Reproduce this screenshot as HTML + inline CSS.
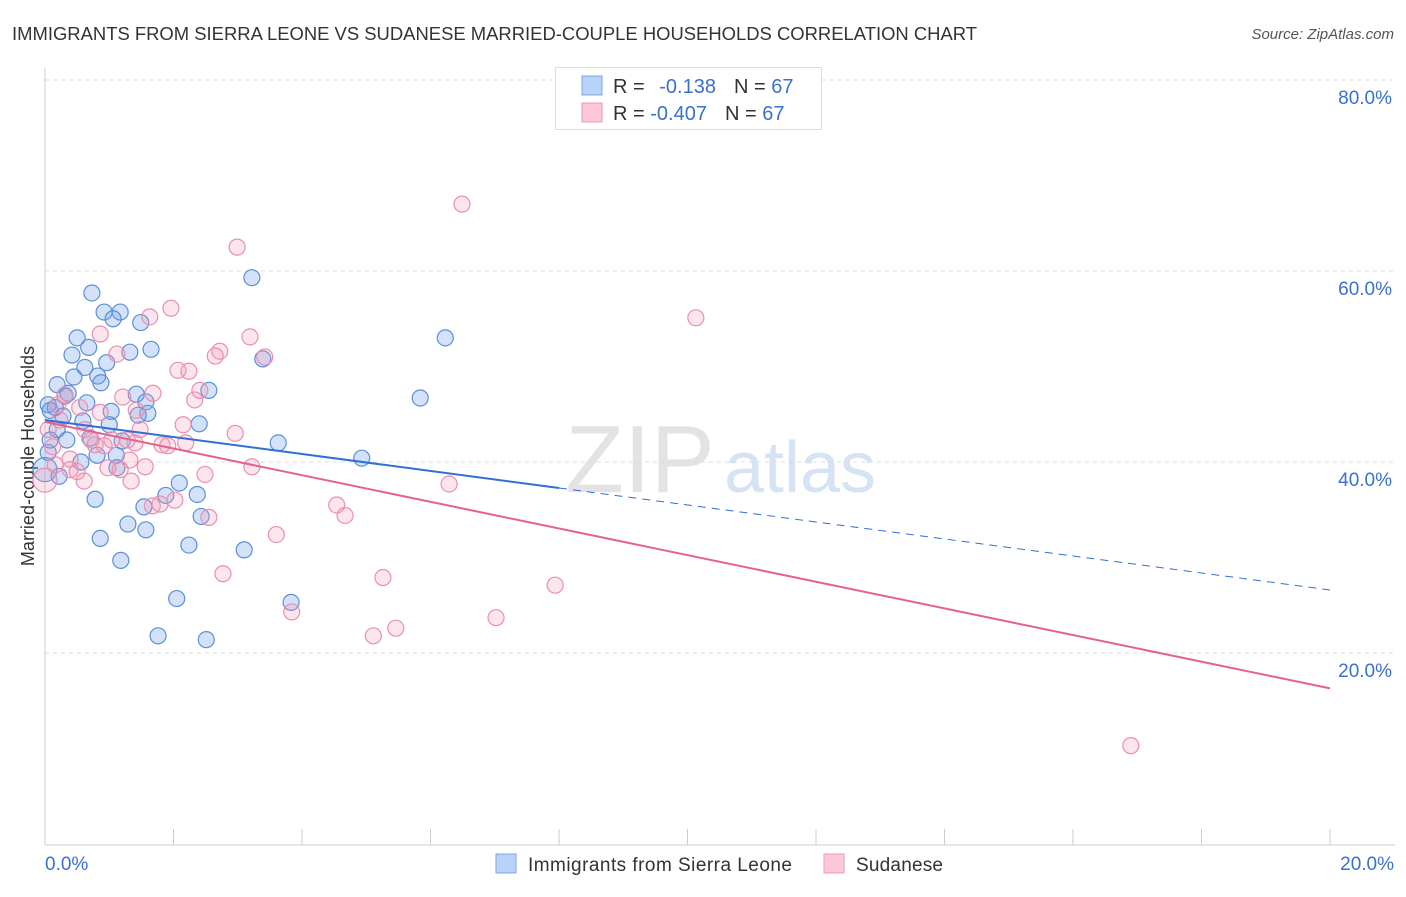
<!DOCTYPE html>
<html><head><meta charset="utf-8"><style>
body{margin:0;background:#fff;font-family:"Liberation Sans",sans-serif}
svg text{font-family:"Liberation Sans",sans-serif}
</style></head><body>
<svg id="c" width="1406" height="892">
<text x="12" y="40" font-size="18" fill="#333" textLength="965" lengthAdjust="spacingAndGlyphs">IMMIGRANTS FROM SIERRA LEONE VS SUDANESE MARRIED-COUPLE HOUSEHOLDS CORRELATION CHART</text>
<text x="1394" y="39" font-size="15" fill="#555" font-style="italic" text-anchor="end">Source: ZipAtlas.com</text>
<text x="640" y="492" font-size="96" fill="#e3e3e3" font-family="Liberation Serif" text-anchor="middle">ZIP</text>
<text x="800" y="492" font-size="72" fill="#d6e3f5" text-anchor="middle">atlas</text>
<text transform="translate(34,456) rotate(-90)" font-size="18" fill="#333" text-anchor="middle">Married-couple Households</text>
<g id="grid"></g><g id="pts"></g><g id="lines"></g>
<g>
<rect x="555.5" y="67.5" width="266" height="62" fill="#fff" stroke="#ddd"/>
<rect x="582" y="76" width="20" height="19" fill="#b8d3f5" stroke="#7aa8e6"/>
<rect x="582" y="103" width="20" height="19" fill="#fcc8d8" stroke="#ee9ab6"/>
<text x="613" y="93" font-size="20" fill="#333">R = <tspan fill="#3a70d0" dx="9">-0.138</tspan><tspan dx="18" fill="#333">N = </tspan><tspan fill="#3a70d0">67</tspan></text>
<text x="613" y="120" font-size="20" fill="#333">R = <tspan fill="#3a70d0">-0.407</tspan><tspan dx="18" fill="#333">N = </tspan><tspan fill="#3a70d0">67</tspan></text>
</g>
<g>
<rect x="496" y="854" width="20" height="19" fill="#b8d3f5" stroke="#7aa8e6"/>
<text x="528" y="871" font-size="19" fill="#333" textLength="264">Immigrants from Sierra Leone</text>
<rect x="824" y="854" width="20" height="19" fill="#fcc8d8" stroke="#ee9ab6"/>
<text x="856" y="871" font-size="19" fill="#333" textLength="87">Sudanese</text>
</g>
</svg>
<script>
const yTicks=[20,40,60,80];
const xTickLabels=["0.0%","20.0%"];
const blueX=[0.73,0.92,1.17,1.06,1.49,0.50,0.68,0.42,1.32,1.65,0.96,0.62,0.45,0.82,0.87,0.19,0.36,0.31,2.55,3.22,3.39,6.23,5.84,0.05,0.16,0.65,1.03,1.42,1.57,1.60,1.45,1.00,0.28,0.59,2.40,0.19,0.34,0.70,1.20,3.63,0.05,0.81,1.11,0.56,4.93,0.22,1.12,0.78,2.09,1.88,2.37,1.54,2.43,1.29,1.57,0.86,2.24,3.10,1.18,3.83,2.05,1.76,2.51,0.08,0.0,0.08];
const blueY=[57.7,55.7,55.7,55.0,54.6,53.0,52.0,51.2,51.5,51.8,50.4,49.9,48.9,49.0,48.3,48.1,47.2,46.9,47.5,59.3,50.8,53.0,46.7,46.0,45.7,46.2,45.3,47.1,46.3,45.1,44.9,43.9,44.8,44.3,44.0,43.4,42.3,42.5,42.2,42.0,41.0,40.7,40.7,40.0,40.4,38.5,39.4,36.1,37.8,36.5,36.6,35.3,34.3,33.5,32.9,32.0,31.3,30.8,29.7,25.3,25.7,21.8,21.4,42.3,39.2,45.4];
const pinkX=[6.49,2.99,1.96,1.63,0.86,3.19,2.72,2.65,3.42,1.12,2.07,2.24,1.68,1.21,2.33,10.13,0.20,0.54,0.86,1.42,2.15,2.96,0.72,0.92,1.28,1.40,1.82,1.91,2.19,0.12,0.39,0.98,1.56,2.49,3.22,0.50,0.61,1.34,6.29,0.0,1.79,1.67,4.54,4.67,2.55,3.60,2.77,5.26,7.94,3.84,5.46,5.11,7.02,16.90,0.23,0.05,0.31,1.04,1.32,0.62,0.78,0.39,1.48,2.02,1.17,0.16,2.41];
const pinkY=[67.0,62.5,56.1,55.2,53.4,53.1,51.6,51.1,51.0,51.3,49.6,49.5,47.2,46.8,46.5,55.1,46.0,45.7,45.2,45.4,43.9,43.0,42.3,41.7,42.3,42.0,41.8,41.7,42.0,41.6,40.3,39.4,39.5,38.7,39.5,39.0,38.0,38.0,37.7,38.1,35.6,35.4,35.5,34.4,34.2,32.4,28.3,27.9,27.1,24.3,22.6,21.8,23.7,10.3,44.4,43.4,47.0,42.3,40.2,43.4,41.8,39.2,43.4,36.0,39.2,39.7,47.5];
const blueTrend=[44.4,26.6], pinkTrend=[44.2,16.3], blueSolidEnd=8;
const X=v=>45+v/20*1285, Y=v=>844-v*191/20;
const NS="http://www.w3.org/2000/svg";
function mk(t,a,p){const e=document.createElementNS(NS,t);for(const k in a)e.setAttribute(k,a[k]);p.appendChild(e);return e;}
const g=document.getElementById('grid');
yTicks.forEach(t=>{
 const l=mk('line',{x1:45,x2:1395,y1:Y(t),y2:Y(t),stroke:'#ddd','stroke-dasharray':'4,4'},g);
 
 
 const tx=mk('text',{x:1392,y:Y(t)+24,'font-size':19,fill:'#3a70d0','text-anchor':'end'},g);tx.textContent=t.toFixed(1)+'%';
 
 
});
mk('line',{x1:45,x2:45,y1:68,y2:845,stroke:'#ccc'},g);
mk('line',{x1:45,x2:1395,y1:845,y2:845,stroke:'#ccc'},g);
for(let i=0;i<=10;i++){mk('line',{x1:X(i*2),x2:X(i*2),y1:829,y2:845,stroke:'#ccc'},g);}
[[0,'start',45],[20,'end',1394]].forEach((d,i)=>{const t=mk('text',{x:d[2],y:870,'font-size':19,fill:'#3a70d0','text-anchor':d[1]},g);t.textContent=xTickLabels[i];
 
 });
const p=document.getElementById('pts');
function dots(xs,ys,fill,stroke,name){xs.forEach((x,i)=>{const c=mk('circle',{cx:X(x),cy:Y(ys[i]),r:x<0.05?12:8,fill:fill,stroke:stroke,'stroke-width':1.2},p);
 
 });}
dots(blueX,blueY,'rgba(110,160,235,0.3)','#5b8fd9','point-sierra-leone');
dots(pinkX,pinkY,'rgba(245,150,180,0.25)','#ea8fb0','point-sudanese');
const L=document.getElementById('lines');
const bm=blueTrend[0]+(blueTrend[1]-blueTrend[0])*blueSolidEnd/20;
let l1=mk('line',{x1:X(0),y1:Y(blueTrend[0]),x2:X(blueSolidEnd),y2:Y(bm),stroke:'#2f6fd6','stroke-width':2},L);


let l2=mk('line',{x1:X(blueSolidEnd),y1:Y(bm),x2:X(20),y2:Y(blueTrend[1]),stroke:'#2f6fd6','stroke-width':1,'stroke-dasharray':'8,6'},L);


let l3=mk('line',{x1:X(0),y1:Y(pinkTrend[0]),x2:X(20),y2:Y(pinkTrend[1]),stroke:'#e4628f','stroke-width':2},L);


</script>
</body></html>
